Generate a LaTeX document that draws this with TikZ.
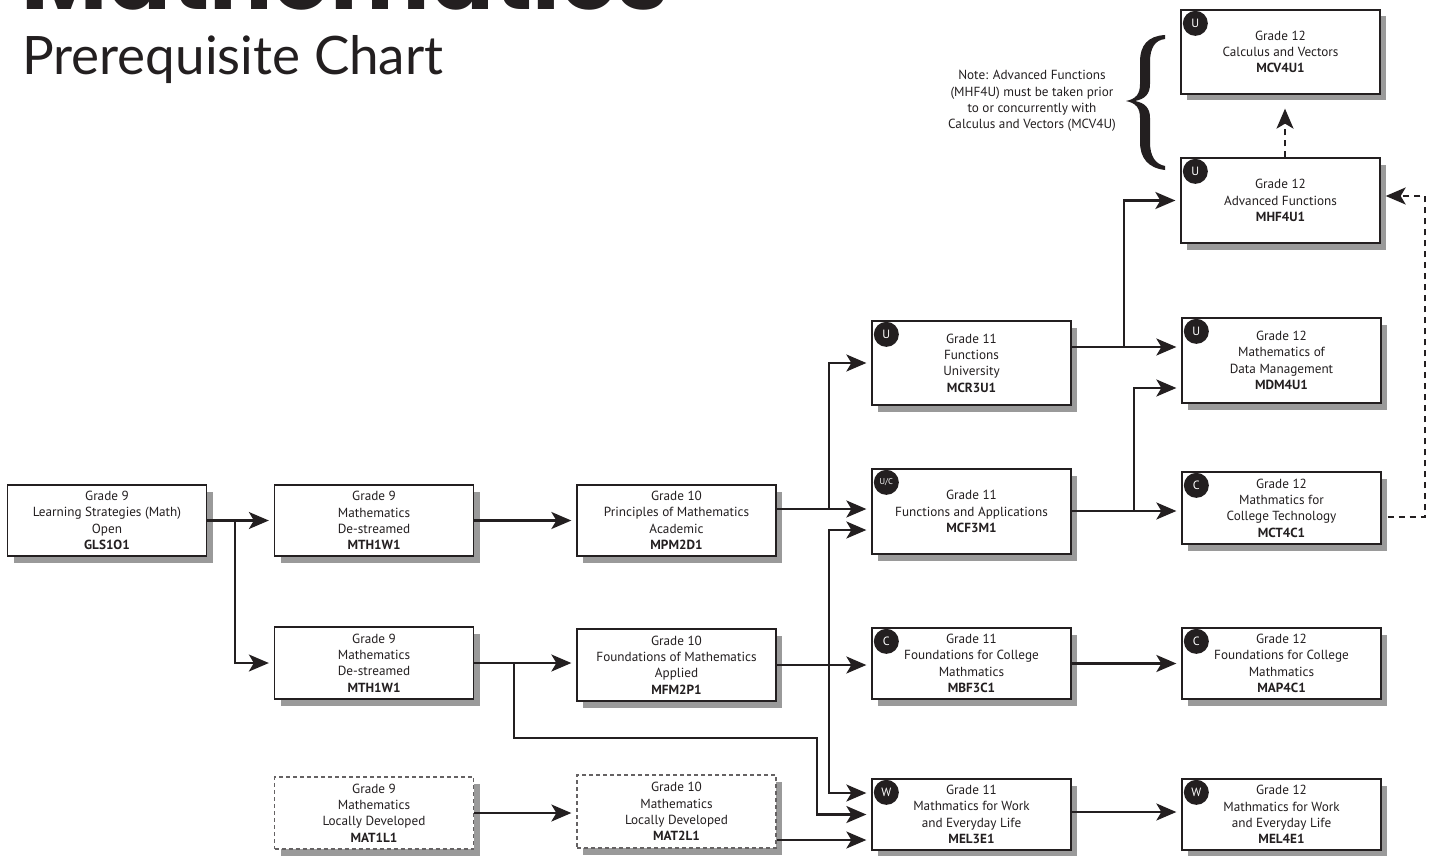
\documentclass[tikz,border=0pt]{standalone}
\usepackage{fontspec}
\setmainfont{PT Sans}
\newfontfamily\titlefont{Poppins}
\newfontfamily\subfont{Lato}
\usetikzlibrary{arrows.meta,shadows,calc}
\definecolor{ink}{HTML}{231F20}
\definecolor{shade}{HTML}{9A9A9A}
\begin{document}
\begin{tikzpicture}[x=1pt,y=-1pt,
  cbox/.style={draw=ink, line width=1.3pt, fill=white, align=center,
    font=\fontsize{13.2}{16.3}\selectfont, text=ink, inner sep=0pt, minimum width=199pt,
    general shadow={fill=shade, shadow xshift=6pt, shadow yshift=-6.5pt}},
  ldbox/.style={cbox, draw=ink!70, dash pattern=on 4pt off 3pt},
  badge/.style={circle, fill=ink, text=white, inner sep=0pt, minimum size=25pt,
    font=\fontsize{12}{12}\selectfont},
  arr/.style={line width=2.1pt, draw=ink, -{Stealth[length=20pt,width=17pt,inset=5pt]}, shorten >=5pt},
  darr/.style={arr, dash pattern=on 6pt off 5pt},
]
\useasboundingbox (0,0) rectangle (1437,856);

% titles
\node[anchor=base west, inner sep=0pt, font=\titlefont\bfseries\fontsize{94}{94}\selectfont, text=ink] (title) at (21,10) {Mathematics};
\node[anchor=base west, inner sep=0pt, font=\subfont\fontsize{53}{53}\selectfont, text=ink] (sub) at (22,75) {Prerequisite Chart};

% column 1-3
\node[cbox, minimum height=71pt] (gls) at (107,520.5) {Grade 9\\Learning Strategies (Math)\\Open\\\textbf{GLS1O1}};
\node[cbox, minimum height=71pt] (mtha) at (374,520.5) {Grade 9\\Mathematics\\De-streamed\\\textbf{MTH1W1}};
\node[cbox, minimum height=72pt] (mthb) at (374,663) {Grade 9\\Mathematics\\De-streamed\\\textbf{MTH1W1}};
\node[ldbox, minimum height=72pt] (mat1) at (374,813) {Grade 9\\Mathematics\\Locally Developed\\\textbf{MAT1L1}};
\node[cbox, minimum height=71pt] (mpm) at (676.5,520.5) {Grade 10\\Principles of Mathematics\\Academic\\\textbf{MPM2D1}};
\node[cbox, minimum height=72pt] (mfm) at (676.5,665) {Grade 10\\Foundations of Mathematics\\Applied\\\textbf{MFM2P1}};
\node[ldbox, minimum height=73pt] (mat2) at (676.5,811.5) {Grade 10\\Mathematics\\Locally Developed\\\textbf{MAT2L1}};

% grade 11
\node[cbox, minimum height=84pt] (mcr) at (971.5,363) {Grade 11\\Functions\\University\\\textbf{MCR3U1}};
\node[cbox, minimum height=85pt] (mcf) at (971.5,511.5) {Grade 11\\Functions and Applications\\\textbf{MCF3M1}};
\node[cbox, minimum height=71pt] (mbf) at (971.5,663.5) {Grade 11\\Foundations for College\\Mathmatics\\\textbf{MBF3C1}};
\node[cbox, minimum height=71pt] (mel3) at (971.5,814.5) {Grade 11\\Mathmatics for Work\\and Everyday Life\\\textbf{MEL3E1}};

% grade 12
\node[cbox, minimum height=84pt] (mcv) at (1280.5,52) {Grade 12\\Calculus and Vectors\\\textbf{MCV4U1}};
\node[cbox, minimum height=85pt] (mhf) at (1280.5,200.5) {Grade 12\\Advanced Functions\\\textbf{MHF4U1}};
\node[cbox, minimum height=85pt] (mdm) at (1281.5,360.5) {Grade 12\\Mathematics of\\Data Management\\\textbf{MDM4U1}};
\node[cbox, minimum height=72pt] (mct) at (1281.5,508) {Grade 12\\Mathmatics for\\College Technology\\\textbf{MCT4C1}};
\node[cbox, minimum height=71pt] (map) at (1281.5,663.5) {Grade 12\\Foundations for College\\Mathmatics\\\textbf{MAP4C1}};
\node[cbox, minimum height=71pt] (mel4) at (1281.5,814.5) {Grade 12\\Mathmatics for Work\\and Everyday Life\\\textbf{MEL4E1}};

% badges
\node[badge] (bmcr) at ($(mcr.north west)+(15,14)$) {U};
\node[badge, font=\fontsize{8.5}{8.5}\selectfont] (bmcf) at ($(mcf.north west)+(15,14)$) {U/C};
\node[badge] (bmbf) at ($(mbf.north west)+(15,14)$) {C};
\node[badge] (bmel3) at ($(mel3.north west)+(15,14)$) {W};
\node[badge] (bmcv) at ($(mcv.north west)+(15,14)$) {U};
\node[badge] (bmhf) at ($(mhf.north west)+(15,14)$) {U};
\node[badge] (bmdm) at ($(mdm.north west)+(15,14)$) {U};
\node[badge] (bmct) at ($(mct.north west)+(15,14)$) {C};
\node[badge] (bmap) at ($(map.north west)+(15,14)$) {C};
\node[badge] (bmel4) at ($(mel4.north west)+(15,14)$) {W};

% note and brace
\node[align=center, text=ink, font=\fontsize{13.2}{16.3}\selectfont] (note) at (1032,101)
  {Note: Advanced Functions\\(MHF4U) must be taken prior\\to or concurrently with\\Calculus and Vectors (MCV4U)};
\fill[ink] (1165,35) .. controls (1148,36) and (1140,45) .. (1140,62) -- (1140,84)
  .. controls (1140,94) and (1136,99) .. (1126,101) .. controls (1136,103) and (1140,108) .. (1140,118)
  -- (1140,142) .. controls (1140,158) and (1148,168) .. (1165,170)
  -- (1165,166) .. controls (1155,164) and (1150,156) .. (1150,142) -- (1150,118)
  .. controls (1150,108) and (1145,103) .. (1135,101) .. controls (1145,99) and (1150,94) .. (1150,84)
  -- (1150,62) .. controls (1150,48) and (1155,40) .. (1165,39) -- cycle;

% connectors
\coordinate (j1) at (235,520.5);
\draw[arr] (gls.east) -- (mtha.west);
\draw[arr] (j1) |- (mthb.west);
\draw[arr] (mtha.east) -- (mpm.west);
\draw[arr] (mthb.east) -- (mthb.east -| mfm.west);
\coordinate (j2) at (514,663);
\coordinate (j2b) at (817,738);
\draw[arr] (j2) |- (j2b) |- (mel3.west);
\draw[arr] (mat1.east) -- (mat1.east -| mat2.west);
\draw[arr] (mat2.east |- 0,840) -- (mel3.west |- 0,840);

\coordinate (j3) at (829,509);
\draw[arr] (mpm.east |- j3) -- (j3 -| mcf.west);
\draw[arr] (j3) |- (mcr.west);
\coordinate (j4) at (829,665);
\draw[arr] (mfm.east) -- (mfm.east -| mbf.west);
\draw[arr] (j4) |- (mcf.west |- 0,530);
\draw[arr] (j4) |- (mel3.west |- 0,793);

\coordinate (j5) at (1124,347);
\draw[arr] (mcr.east |- j5) -- (j5 -| mdm.west);
\draw[arr] (j5) |- (mhf.west);
\coordinate (j6) at (1134,511);
\draw[arr] (mcf.east |- j6) -- (j6 -| mct.west);
\draw[arr] (j6) |- (mdm.west |- 0,388);
\draw[arr] (mbf.east) -- (mbf.east -| map.west);
\draw[arr] (mel3.east |- 0,812) -- (mel4.west |- 0,812);

% dashed
\draw[darr, shorten >=14pt] ([xshift=4.5pt]mhf.north) -- ([xshift=4.5pt]mcv.south);
\coordinate (d1) at (1425,517);
\coordinate (d2) at (1425,196);
\draw[darr, shorten <=6pt] (mct.east |- d1) -- (d1) -- (d2) -- (d2 -| mhf.east);
\end{tikzpicture}
\end{document}
